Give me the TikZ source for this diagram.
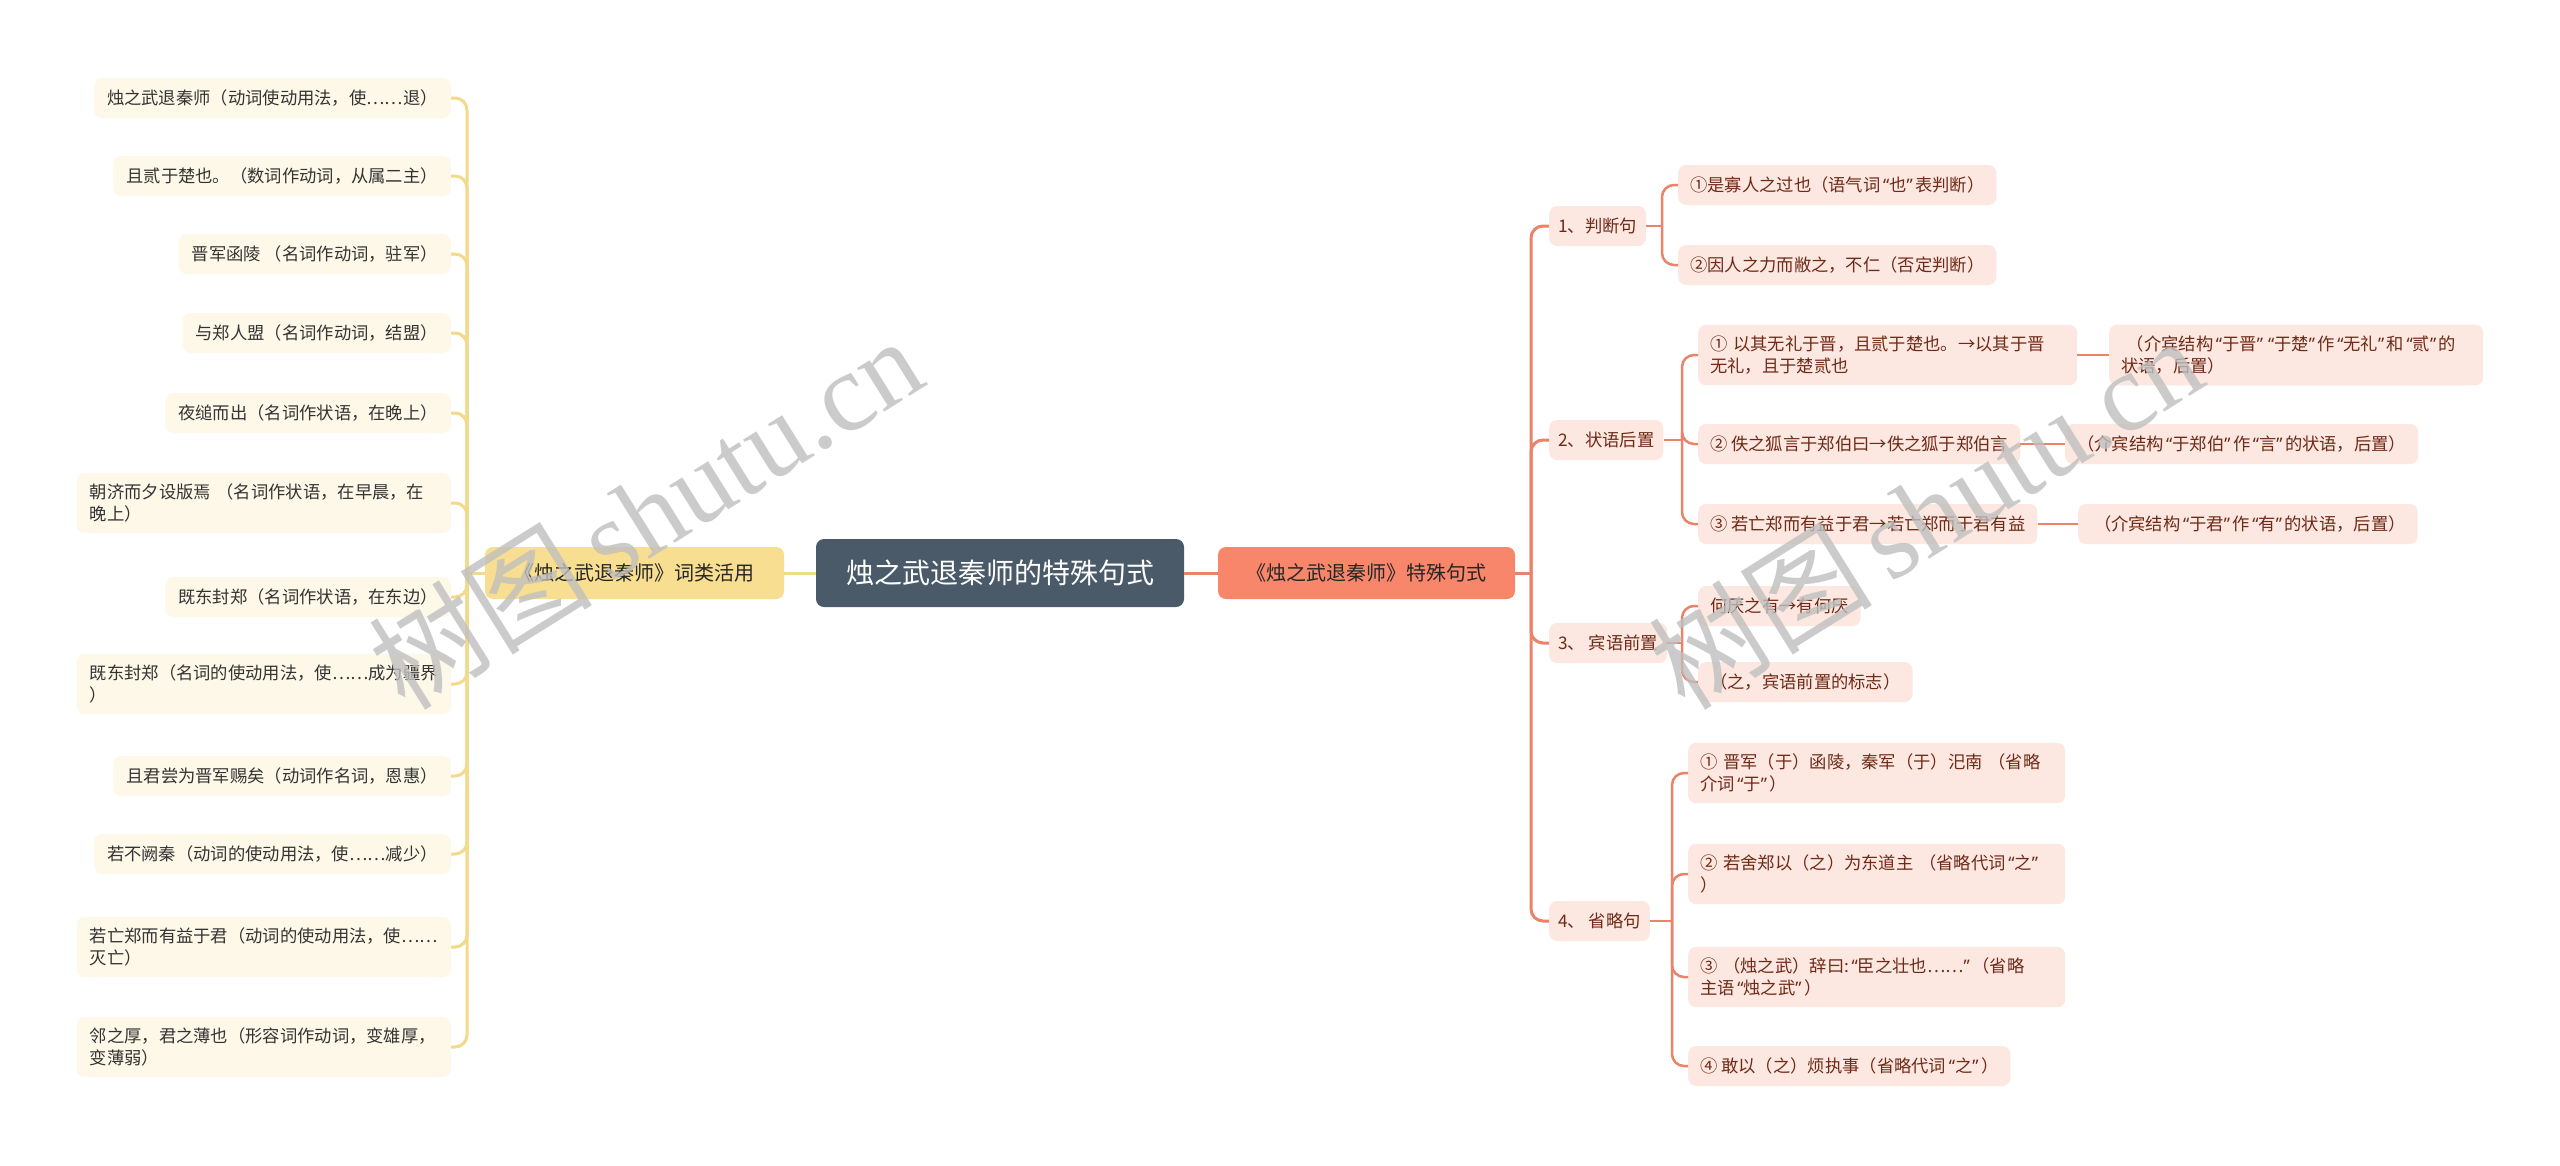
\documentclass[tikz,border=0pt]{standalone}
\usepackage{fontspec}
\setmainfont{Noto Sans CJK SC}
\newfontfamily\wmlatin{Liberation Serif}
\newfontfamily\qfont{Noto Sans}
\newcommand\qo{\hspace{2.5pt}{\qfont “}}
\newcommand\qc{{\qfont ”}\hspace{2.5pt}}
\definecolor{cdark}{HTML}{4A5A69}
\definecolor{cyel}{HTML}{F8DE90}
\definecolor{cyelline}{HTML}{F3D98A}
\definecolor{ccream}{HTML}{FEF8E8}
\definecolor{csalmon}{HTML}{F7866B}
\definecolor{csalline}{HTML}{E9846B}
\definecolor{cpink}{HTML}{FCE7E1}
\definecolor{cbrown}{HTML}{6E2A16}
\definecolor{cleaftext}{HTML}{333333}
\tikzset{
  base/.style={rounded corners=8pt, inner xsep=12pt, inner ysep=11pt, align=left,
    font=\fontsize{17.3}{22}\selectfont, minimum height=40pt},
  lleaf/.style={base, fill=ccream, text=cleaftext, anchor=east, inner xsep=13pt},
  lwrap/.style={lleaf, text width=348pt},
  rnode/.style={base, fill=cpink, text=cbrown, anchor=west},
  rwrap/.style={rnode, text width=353pt},
  yline/.style={draw=cyelline, line width=3pt},
  rline/.style={draw=csalline, line width=3pt},
  rsub/.style={draw=csalline, line width=2.5pt},
  wm/.style={text=black!25, opacity=0.8, rotate=32, font=\fontsize{112}{112}\selectfont}
}
\begin{document}
\begin{tikzpicture}[x=1pt,y=-1pt]
\fill[white] (0,0) rectangle (2560,1165);
\useasboundingbox (0,0) rectangle (2560,1165);

% centre and main branches
\node[fill=cdark, text=white, rounded corners=8pt, minimum width=368pt, minimum height=68pt,
  font=\fontsize{28}{34}\selectfont] (root) at (1000,573) {烛之武退秦师的特殊句式};
\node[fill=cyel, text=black!85, rounded corners=8pt, minimum width=299pt, minimum height=52pt,
  font=\fontsize{20}{24}\selectfont] (lm) at (634.5,573) {《烛之武退秦师》词类活用};

% left leaves
\node[lleaf] (l1) at (451,98) {烛之武退秦师（动词使动用法，使……退）};
\node[lleaf] (l2) at (451,176) {且贰于楚也。（数词作动词，从属二主）};
\node[lleaf] (l3) at (451,254) {晋军函陵 （名词作动词，驻军）};
\node[lleaf] (l4) at (451,333) {与郑人盟（名词作动词，结盟）};
\node[lleaf] (l5) at (451,413) {夜缒而出（名词作状语，在晚上）};
\node[lwrap] (l6) at (451,503) {朝济而夕设版焉 （名词作状语，在早晨，在\\晚上）};
\node[lleaf] (l7) at (451,597) {既东封郑（名词作状语，在东边）};
\node[lwrap] (l8) at (451,684) {既东封郑（名词的使动用法，使……成为疆界\\）};
\node[lleaf] (l9) at (451,776) {且君尝为晋军赐矣（动词作名词，恩惠）};
\node[lleaf] (l10) at (451,854) {若不阙秦（动词的使动用法，使……减少）};
\node[lwrap] (l11) at (451,947) {若亡郑而有益于君（动词的使动用法，使……\\灭亡）};
\node[lwrap] (l12) at (451,1047) {邻之厚，君之薄也（形容词作动词，变雄厚，\\变薄弱）};

% right level 2
\node[rnode, inner xsep=9pt] (r1) at (1549,226) {1、判断句};
\node[rnode, inner xsep=9pt] (r2) at (1549,440) {2、状语后置};
\node[rnode, inner xsep=9pt] (r3) at (1549,643) {3、 宾语前置};
\node[rnode, inner xsep=9pt] (r4) at (1549,921) {4、 省略句};

% right level 3
\node[rnode] (r11) at (1678,185) {①是寡人之过也（语气词\qo 也\qc 表判断）};
\node[rnode] (r12) at (1678,265) {②因人之力而敝之，不仁（否定判断）};
\node[rwrap, text width=355pt] (r21) at (1698,355) {① 以其无礼于晋，且贰于楚也。→以其于晋\\无礼，且于楚贰也};
\node[rnode] (r22) at (1698,444) {② 佚之狐言于郑伯曰→佚之狐于郑伯言};
\node[rnode] (r23) at (1698,524) {③ 若亡郑而有益于君→若亡郑而于君有益};
\node[rwrap, text width=350pt] (e21) at (2109,355) {\ （介宾结构\qo 于晋\qc\qo 于楚\qc 作\qo 无礼\qc 和\qo 贰\qc 的\\状语，后置）};
\node[rnode] (e22) at (2065,444) {（介宾结构\qo 于郑伯\qc 作\qo 言\qc 的状语，后置）};
\node[rnode] (e23) at (2078,524) {\ （介宾结构\qo 于君\qc 作\qo 有\qc 的状语，后置）};
\node[rnode] (r31) at (1698,606) {何厌之有→有何厌};
\node[rnode] (r32) at (1698,682) {（之，宾语前置的标志）};
\node[rwrap] (r41) at (1688,773) {① 晋军（于）函陵，秦军（于）汜南 （省略\\介词\qo 于\qc ）};
\node[rwrap] (r42) at (1688,874) {② 若舍郑以（之）为东道主 （省略代词\qo 之\qc\\）};
\node[rwrap] (r43) at (1688,977) {③ （烛之武）辞曰:\qo 臣之壮也……\qc （省略\\主语\qo 烛之武\qc ）};
\node[rnode] (r44) at (1688,1066) {④ 敢以（之）烦执事（省略代词\qo 之\qc ）};

% junctions
\coordinate (jL) at (467,573);
\coordinate (jR) at (1531,573);
\coordinate (j1) at (1662,226);
\coordinate (j2) at (1682,440);
\coordinate (j3) at (1682,643);
\coordinate (j4) at (1672,921);

% connectors
\draw[yline] (root.west) -- (lm.east);
\draw[rline] (root.east) -- (1218,573);
\draw[yline] (lm.west) -- (jL);
\foreach \n in {l1,l2,l3,l4,l5,l6,l7,l8,l9,l10,l11,l12}
  \draw[yline, rounded corners=12pt] (jL) |- (\n.east);
\draw[rline] (1515,573) -- (jR);
\foreach \n in {r1,r2,r3,r4}
  \draw[rline, rounded corners=12pt] (jR) |- (\n.west);
\draw[rsub] (r1.east) -- (j1);
\foreach \n in {r11,r12}
  \draw[rsub, rounded corners=12pt] (j1) |- (\n.west);
\draw[rsub] (r2.east) -- (j2);
\foreach \n in {r21,r22,r23}
  \draw[rsub, rounded corners=12pt] (j2) |- (\n.west);
\draw[rsub] (r3.east) -- (j3);
\foreach \n in {r31,r32}
  \draw[rsub, rounded corners=12pt] (j3) |- (\n.west);
\draw[rsub] (r4.east) -- (j4);
\foreach \n in {r41,r42,r43,r44}
  \draw[rsub, rounded corners=12pt] (j4) |- (\n.west);
\draw[rsub] (r21.east) -- (e21.west);
\draw[rsub] (r22.east) -- (e22.west);
\draw[rsub] (r23.east) -- (e23.west);

\node[fill=csalmon, text=black!85, rounded corners=8pt, minimum width=297pt, minimum height=52pt,
  font=\fontsize{20}{24}\selectfont] (rm) at (1366.5,573) {《烛之武退秦师》特殊句式};

% watermarks
\node[wm] (wm1) at (645,512) {树图\,{\wmlatin shutu.cn}};
\node[wm] (wm2) at (1925,512) {树图\,{\wmlatin shutu.cn}};
\end{tikzpicture}
\end{document}
